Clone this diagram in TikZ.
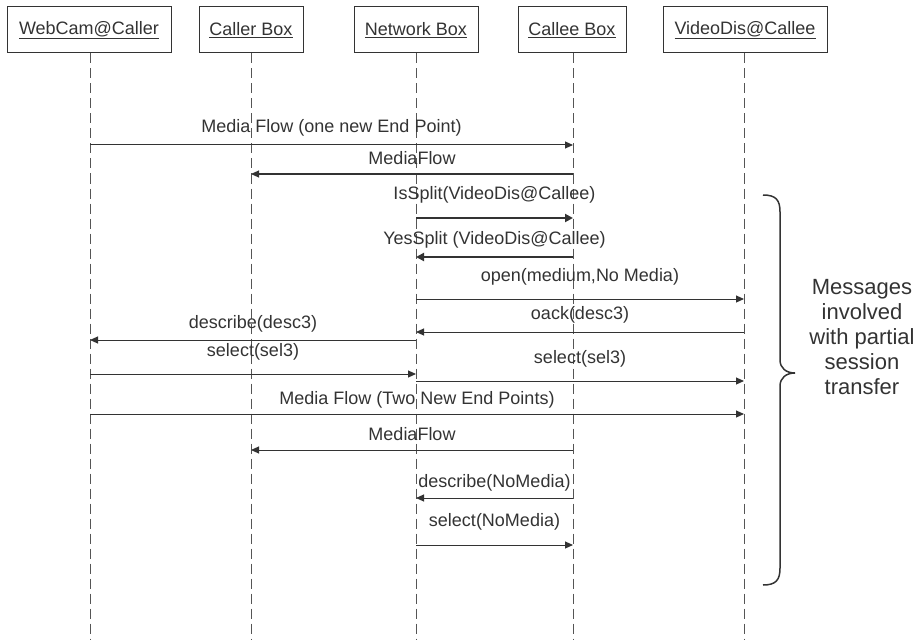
\documentclass[tikz,border=0pt]{standalone}
\usepackage{fontspec}
\setmainfont{Liberation Sans}
\usetikzlibrary{arrows.meta}
\definecolor{ink}{HTML}{333333}
\definecolor{life}{HTML}{555555}
\tikzset{
  objbox/.style={draw=ink, line width=1pt, minimum height=46pt, inner sep=0pt, text=ink, font=\fontsize{18}{21}\selectfont},
  lifeline/.style={draw=life, line width=1pt, dash pattern=on 10pt off 5pt},
  msg/.style={draw=ink, line width=1pt, -{Triangle[length=8pt,width=7pt]}},
  bigmsg/.style={msg, line width=2.8pt, -{Triangle[length=8pt,width=8pt]}},
  lbl/.style={text=ink, font=\fontsize{18}{21}\selectfont, inner sep=0pt, midway},
  note/.style={text=ink, font=\fontsize{22}{25}\selectfont, align=center},
  bracestyle/.style={draw=ink, line width=1.5pt}
}
\begin{document}
\begin{tikzpicture}[x=1pt,y=-1pt]
\useasboundingbox (0,0) rectangle (917,639);
% objects
\node[objbox, minimum width=164pt] (webcam) at (89,30) {\underline{WebCam@Caller}};
\node[objbox, minimum width=104pt] (caller) at (251,30) {\underline{Caller Box}};
\node[objbox, minimum width=124pt] (network) at (416,30) {\underline{Network Box}};
\node[objbox, minimum width=108pt] (callee) at (572,30) {\underline{Callee Box}};
\node[objbox, minimum width=164pt] (video) at (745,30) {\underline{VideoDis@Callee}};
% lifeline ends
\coordinate (webcamE) at (90,639);
\coordinate (callerE) at (251,639);
\coordinate (networkE) at (416,639);
\coordinate (calleeE) at (573,639);
\coordinate (videoE) at (744,639);
\draw[lifeline] (webcam.south -| webcamE) -- (webcamE);
\draw[lifeline] (caller.south -| callerE) -- (callerE);
\draw[lifeline] (network.south -| networkE) -- (networkE);
\draw[lifeline] (callee.south -| calleeE) -- (calleeE);
\draw[lifeline] (video.south -| videoE) -- (videoE);
% message endpoints
\coordinate (m1a) at (90,145);  \coordinate (m1b) at (573,145);
\coordinate (m2a) at (573,174); \coordinate (m2b) at (251,174);
\coordinate (m3a) at (416,218); \coordinate (m3b) at (573,218);
\coordinate (m4a) at (573,257); \coordinate (m4b) at (416,257);
\coordinate (m5a) at (416,299); \coordinate (m5b) at (744,299);
\coordinate (m6a) at (744,332); \coordinate (m6b) at (416,332);
\coordinate (m7a) at (416,340); \coordinate (m7b) at (90,340);
\coordinate (m8a) at (90,374);  \coordinate (m8b) at (416,374);
\coordinate (m9a) at (416,381); \coordinate (m9b) at (744,381);
\coordinate (m10a) at (90,414); \coordinate (m10b) at (744,414);
\coordinate (m11a) at (573,450); \coordinate (m11b) at (251,450);
\coordinate (m12a) at (573,498); \coordinate (m12b) at (416,498);
\coordinate (m13a) at (416,545); \coordinate (m13b) at (573,545);
% messages
\draw[msg] (m1a) -- (m1b) node[lbl, yshift=17pt] {Media Flow (one new End Point)};
\draw[msg] (m2a) -- (m2b) node[lbl, yshift=16pt] {MediaFlow};
\draw[bigmsg] (m3a) -- (m3b) node[lbl, yshift=23pt] {IsSplit(VideoDis@Callee)};
\draw[bigmsg] (m4a) -- (m4b) node[lbl, yshift=17pt] {YesSplit (VideoDis@Callee)};
\draw[msg] (m5a) -- (m5b) node[lbl, yshift=22pt] {open(medium,No Media)};
\draw[msg] (m6a) -- (m6b) node[lbl, yshift=17pt] {oack(desc3)};
\draw[msg] (m7a) -- (m7b) node[lbl, yshift=16pt] {describe(desc3)};
\draw[msg] (m8a) -- (m8b) node[lbl, yshift=22pt] {select(sel3)};
\draw[msg] (m9a) -- (m9b) node[lbl, yshift=22pt] {select(sel3)};
\draw[msg] (m10a) -- (m10b) node[lbl, yshift=14pt] {Media Flow (Two New End Points)};
\draw[msg] (m11a) -- (m11b) node[lbl, yshift=16pt] {MediaFlow};
\draw[msg] (m12a) -- (m12b) node[lbl, yshift=15pt] {describe(NoMedia)};
\draw[msg] (m13a) -- (m13b) node[lbl, yshift=23pt] {select(NoMedia)};
% brace
\coordinate (btop) at (763,195);
\coordinate (btip) at (795,373);
\coordinate (bbot) at (763,585);
\draw[bracestyle] (btop) .. controls (776,195) and (780,200) .. (780,212)
  -- (780,360) .. controls (780,368) and (786,373) .. (btip)
  .. controls (786,373) and (780,378) .. (780,386)
  -- (780,568) .. controls (780,580) and (776,585) .. (bbot);
\node[note] (notetext) at (862,337) {Messages\\involved\\with partial\\session\\transfer};
\end{tikzpicture}
\end{document}
